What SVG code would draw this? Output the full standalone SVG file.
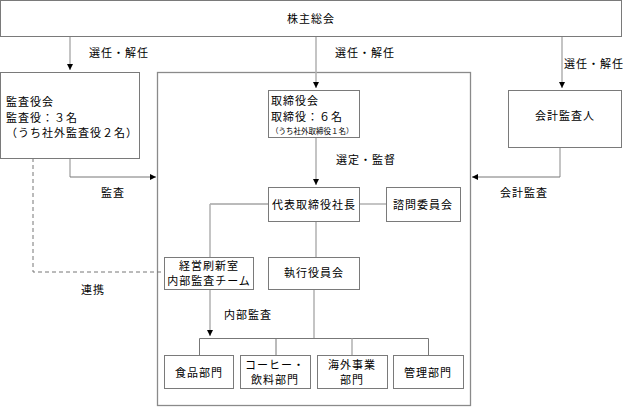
<svg xmlns="http://www.w3.org/2000/svg" width="623" height="407" viewBox="0 0 623 407">
<defs>
<marker id="ah" viewBox="0 0 10 10" refX="10" refY="5" markerWidth="6" markerHeight="6" markerUnits="userSpaceOnUse" orient="auto"><path d="M0,0L10,5L0,10z" fill="#000"/></marker>
<style>
text{font-family:"Noto Sans CJK JP","Noto Sans CJK SC",sans-serif;font-size:11px;letter-spacing:1px;fill:#000}
.c{text-anchor:middle}
.s{font-size:7.5px;letter-spacing:0}
rect{fill:#fff;stroke:#7a7a7a;stroke-width:1}
.big{fill:none;stroke:#8a8a8a;stroke-width:1.3}
.lv{fill:none;stroke:#b0b0b0;stroke-width:1.5}
.lh{fill:none;stroke:#777;stroke-width:1}
.d{fill:none;stroke:#777;stroke-width:1;stroke-dasharray:4,3}
</style>
</defs>
<rect class="big" x="157.5" y="72.5" width="313" height="333"/>
<g id="connectors">
<path class="lv" d="M70,37V70" marker-end="url(#ah)"/>
<path class="lv" d="M316,37V88" marker-end="url(#ah)"/>
<path class="lv" d="M562,37V88" marker-end="url(#ah)"/>
<path class="lv" d="M70,158V177"/>
<path class="lh" d="M70,177H156" marker-end="url(#ah)"/>
<path class="lv" d="M560,147V177"/>
<path class="lh" d="M560,177H472" marker-end="url(#ah)"/>
<path class="lv" d="M316,138V185" marker-end="url(#ah)"/>
<path class="lv" d="M360,204H386"/>
<path class="lh" d="M268,204H210"/>
<path class="lv" d="M210,204V257"/>
<path class="lv" d="M316,221V257"/>
<path class="d" d="M33,158V272H164"/>
<path class="lv" d="M210,289V336" marker-end="url(#ah)"/>
<path class="lv" d="M314,289V338"/>
<path class="lh" d="M199.5,355V338.5H428.5V355"/>
<path class="lh" d="M276,338.5V355"/>
<path class="lv" d="M352,338.5V355"/>
<text x="89" y="57">選任・解任</text>
<text x="335" y="57">選任・解任</text>
<text x="564" y="68">選任・解任</text>
<text x="101" y="197">監査</text>
<text x="500" y="197">会計監査</text>
<text x="336" y="164">選定・監督</text>
<text x="81" y="294">連携</text>
<text x="224" y="319">内部監査</text>
</g>
<g id="shareholders"><rect x="0.5" y="0.5" width="621" height="36"/><text class="c" x="311" y="23">株主総会</text></g>
<g id="auditboard"><rect x="0.5" y="72.5" width="139" height="86"/>
<text x="6" y="106">監査役会</text><text x="6" y="122">監査役：３名</text><text x="6" y="137">（うち社外監査役２名）</text></g>
<g id="board"><rect x="268.5" y="90.5" width="91" height="47"/>
<text x="271" y="105">取締役会</text><text x="271" y="121">取締役：６名</text><text class="s" x="271" y="134">（うち社外取締役１名）</text></g>
<g id="accountant"><rect x="508.5" y="90.5" width="113" height="57"/><text class="c" x="565" y="120">会計監査人</text></g>
<g id="president"><rect x="268.5" y="187.5" width="91" height="34"/><text class="c" x="314" y="209">代表取締役社長</text></g>
<g id="advisory"><rect x="386.5" y="187.5" width="74" height="34"/><text class="c" x="423" y="209">諮問委員会</text></g>
<g id="renewal"><rect x="164.5" y="257.5" width="89" height="32"/><text class="c" x="209" y="270">経営刷新室</text><text class="c" x="209" y="285">内部監査チーム</text></g>
<g id="executive"><rect x="268.5" y="257.5" width="91" height="32"/><text class="c" x="314" y="277">執行役員会</text></g>
<g id="food"><rect x="164.5" y="355.5" width="69" height="33"/><text class="c" x="199" y="377">食品部門</text></g>
<g id="coffee"><rect x="240.5" y="355.5" width="70" height="33"/><text class="c" x="275" y="369">コーヒー・</text><text class="c" x="275" y="384">飲料部門</text></g>
<g id="overseas"><rect x="317.5" y="355.5" width="70" height="33"/><text class="c" x="352" y="369">海外事業</text><text class="c" x="352" y="384">部門</text></g>
<g id="admin"><rect x="393.5" y="355.5" width="70" height="33"/><text class="c" x="428" y="377">管理部門</text></g>
</svg>
